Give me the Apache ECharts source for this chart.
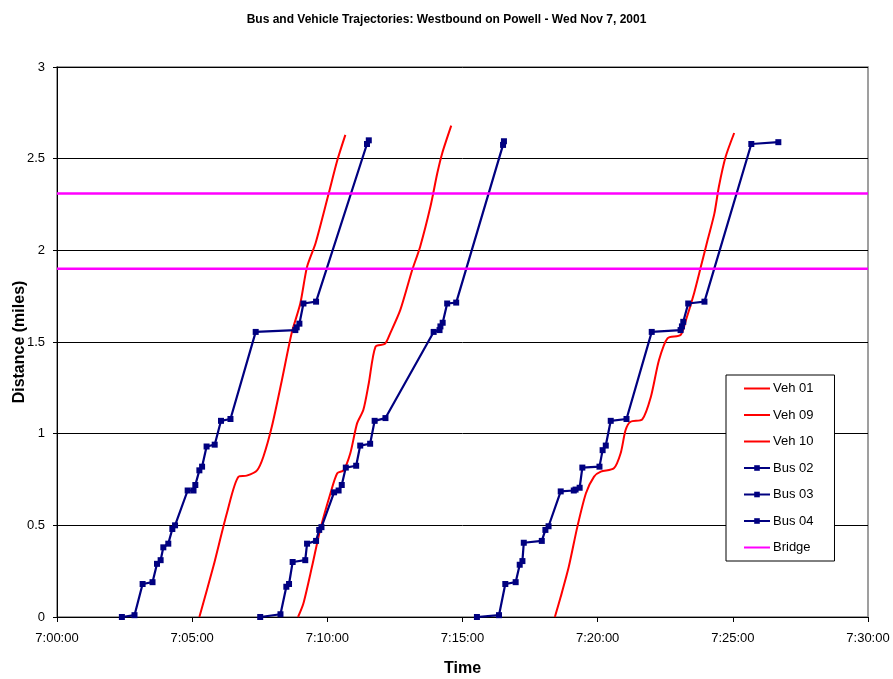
<!DOCTYPE html>
<html>
<head>
<meta charset="utf-8">
<script src="https://cdn.jsdelivr.net/npm/echarts@6/dist/echarts.min.js"></script>
<style>
html,body{margin:0;padding:0;background:#fff;}
#chart{width:893px;height:679px;}
</style>
</head>
<body>
<div id="chart"></div>
<script>
// ---- Data (time of day, distance in miles) ----
var veh01Times = ["7:05:16","7:05:47","7:06:17","7:06:43","7:07:01","7:07:24","7:07:38","7:07:57","7:08:19","7:08:41","7:09:00","7:09:15","7:09:34","7:10:03","7:10:22","7:10:40"];
var veh01Dist  = [0,0.275,0.566,0.766,0.771,0.80,0.874,1.04,1.29,1.55,1.71,1.91,2.04,2.31,2.49,2.63];

var veh09Times = ["7:08:55","7:09:07","7:09:26","7:09:44","7:10:07","7:10:22","7:10:36","7:10:51","7:11:06","7:11:20","7:11:32","7:11:47","7:12:08","7:12:20","7:12:42","7:13:08","7:13:26","7:13:49","7:14:04","7:14:15","7:14:35"];
var veh09Dist  = [0,0.075,0.275,0.475,0.675,0.784,0.80,0.893,1.056,1.13,1.275,1.475,1.49,1.55,1.675,1.89,2.02,2.24,2.42,2.53,2.68];

var veh10Times = ["7:18:25","7:18:38","7:18:56","7:19:15","7:19:34","7:19:52","7:20:07","7:20:36","7:20:51","7:21:02","7:21:13","7:21:39","7:21:58","7:22:16","7:22:35","7:23:04","7:23:16","7:23:34","7:23:49","7:24:04","7:24:19","7:24:29","7:24:44","7:25:03"];
var veh10Dist  = [0,0.11,0.275,0.493,0.675,0.766,0.793,0.811,0.893,1.02,1.065,1.078,1.20,1.40,1.52,1.538,1.62,1.766,1.91,2.056,2.20,2.347,2.51,2.64];

var bus02Times = ["7:02:24","7:02:52","7:03:10","7:03:32","7:03:42","7:03:50","7:03:56","7:04:07","7:04:16","7:04:22","7:04:50","7:05:03","7:05:07","7:05:16","7:05:22","7:05:32","7:05:50","7:06:04","7:06:25","7:07:21","7:08:49","7:08:52","7:08:58","7:09:07","7:09:35","7:11:28","7:11:32"];
var bus02Dist  = [0,0.01,0.18,0.19,0.29,0.31,0.38,0.40,0.48,0.50,0.69,0.69,0.72,0.80,0.82,0.93,0.94,1.07,1.08,1.555,1.565,1.58,1.60,1.71,1.72,2.58,2.60];

var bus03Times = ["7:07:31","7:08:16","7:08:29","7:08:35","7:08:43","7:09:11","7:09:15","7:09:35","7:09:42","7:09:47","7:10:15","7:10:25","7:10:32","7:10:41","7:11:04","7:11:13","7:11:35","7:11:45","7:12:09","7:13:56","7:14:09","7:14:11","7:14:16","7:14:26","7:14:46","7:16:30","7:16:32"];
var bus03Dist  = [0,0.015,0.165,0.18,0.30,0.31,0.40,0.415,0.475,0.49,0.68,0.69,0.72,0.815,0.825,0.935,0.945,1.07,1.085,1.555,1.565,1.585,1.605,1.71,1.715,2.575,2.595];

var bus04Times = ["7:15:32","7:16:21","7:16:35","7:16:58","7:17:07","7:17:13","7:17:16","7:17:56","7:18:04","7:18:11","7:18:38","7:19:07","7:19:11","7:19:20","7:19:26","7:20:04","7:20:11","7:20:18","7:20:29","7:21:04","7:22:00","7:23:04","7:23:07","7:23:10","7:23:21","7:23:57","7:25:41","7:26:41"];
var bus04Dist  = [0,0.01,0.18,0.19,0.285,0.305,0.405,0.415,0.475,0.495,0.685,0.69,0.695,0.705,0.815,0.82,0.91,0.935,1.07,1.08,1.555,1.565,1.585,1.61,1.71,1.72,2.58,2.59];

var bridgeDist = [1.9, 2.31];
var axisStart = "7:00:00", axisEnd = "7:30:00";
var yTicks = [0, 0.5, 1, 1.5, 2, 2.5, 3];
var legendNames = ['Veh 01','Veh 09','Veh 10','Bus 02','Bus 03','Bus 04','Bridge'];

// ---- helpers ----
function toSec(t){ var p = t.split(':').map(Number); return (p[0]-7)*3600 + p[1]*60 + p[2]; }
function pairs(times, dist){ return times.map(function(t,i){ return [toSec(t), dist[i]]; }); }
function fmt(v){ var m = Math.floor(v/60), s = v%60; return (7+Math.floor(m/60)) + ':' + ('0'+(m%60)).slice(-2) + ':' + ('0'+s).slice(-2); }

var RED = '#FF0000', NAVY = '#000080', MAG = '#FF00FF';
function vehSeries(name, t, d){
  return { name:name, type:'line', data:pairs(t,d), showSymbol:false, symbol:'none', smooth:0.25,
    lineStyle:{color:RED, width:2}, itemStyle:{color:RED}, z:2 };
}
function busSeries(name, t, d){
  return { name:name, type:'line', data:pairs(t,d), symbol:'rect', symbolSize:6, showSymbol:true,
    lineStyle:{color:NAVY, width:2.2}, itemStyle:{color:NAVY}, z:3 };
}
var series = [
  vehSeries('Veh 01', veh01Times, veh01Dist),
  vehSeries('Veh 09', veh09Times, veh09Dist),
  vehSeries('Veh 10', veh10Times, veh10Dist),
  busSeries('Bus 02', bus02Times, bus02Dist),
  busSeries('Bus 03', bus03Times, bus03Dist),
  busSeries('Bus 04', bus04Times, bus04Dist)
];
bridgeDist.forEach(function(b){
  series.push({ name:'Bridge', type:'line', symbol:'none', data:[[toSec(axisStart), b],[toSec(axisEnd), b]],
    lineStyle:{color:MAG, width:2.5}, itemStyle:{color:MAG}, z:4 });
});

var legendData = legendNames.map(function(n){
  return n.indexOf('Bus') === 0 ? {name:n} : {name:n, itemStyle:{opacity:0}};
});

var chart = echarts.init(document.getElementById('chart'), null, {renderer:'canvas'});
chart.setOption({
  animation:false,
  backgroundColor:'#fff',
  textStyle:{fontFamily:'Liberation Sans, Arial, sans-serif'},
  title:{ text:'Bus and Vehicle Trajectories: Westbound on Powell - Wed Nov 7, 2001', left:'center', top:9,
    textStyle:{fontSize:12, fontWeight:'bold', color:'#000', fontFamily:'Liberation Sans, Arial, sans-serif'} },
  grid:{ left:57, right:25, top:67, bottom:62, containLabel:false, outerBoundsMode:'none',
    show:true, borderColor:'#808080', borderWidth:1.5, backgroundColor:'transparent' },
  legend:{ orient:'vertical', left:726, top:375, data:legendData,
    backgroundColor:'#fff', borderColor:'#000', borderWidth:1, padding:[7,21,7,17],
    itemWidth:26, itemHeight:7, itemGap:13.5,
    textStyle:{fontSize:13, color:'#000', fontFamily:'Liberation Sans, Arial, sans-serif', padding:[0,0,0,-2]} },
  xAxis:{ type:'value', min:toSec(axisStart), max:toSec(axisEnd), interval:300,
    name:'Time', nameLocation:'middle', nameGap:44, nameMoveOverlap:false,
    nameTextStyle:{fontSize:16, fontWeight:'bold', color:'#000'},
    axisLine:{show:true, onZero:false, lineStyle:{color:'#000', width:1}},
    axisTick:{show:true, length:5, lineStyle:{color:'#000'}},
    axisLabel:{formatter:fmt, fontSize:13, color:'#000', margin:15},
    splitLine:{show:false} },
  yAxis:{ type:'value', min:yTicks[0], max:yTicks[yTicks.length-1], interval:0.5,
    name:'Distance (miles)', nameLocation:'middle', nameGap:29, nameRotate:90, nameMoveOverlap:false,
    nameTextStyle:{fontSize:16, fontWeight:'bold', color:'#000'},
    axisLine:{show:true, lineStyle:{color:'#000', width:1}},
    axisTick:{show:true, length:4, lineStyle:{color:'#000'}},
    axisLabel:{fontSize:13, color:'#000', margin:12},
    splitLine:{show:true, lineStyle:{color:'#000', width:1}} },
  series:series
});
</script>
</body>
</html>
